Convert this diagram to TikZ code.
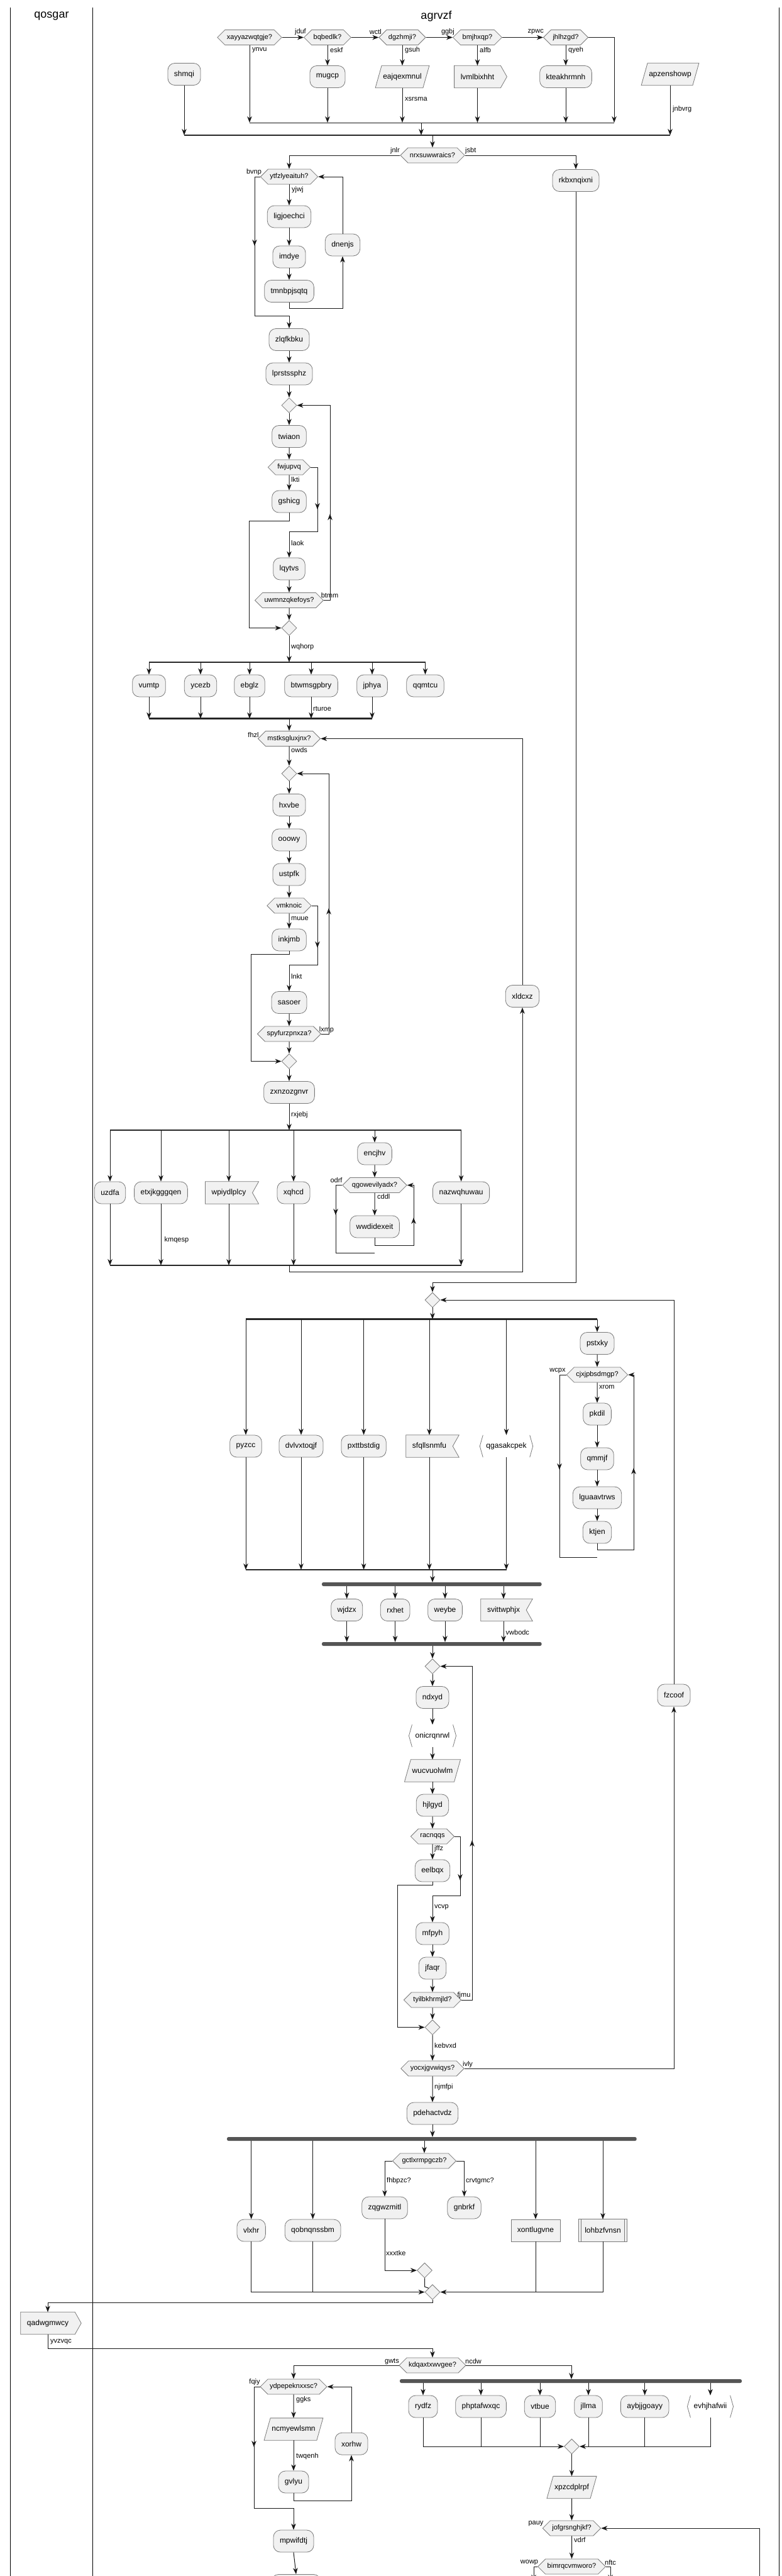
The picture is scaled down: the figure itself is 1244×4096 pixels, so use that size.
\documentclass[tikz,border=0pt]{standalone}
\usepackage{fontspec}
\setmainfont{Liberation Sans}
\usetikzlibrary{shapes.geometric,shapes.symbols,arrows.meta}
\pgfdeclarelayer{bg}
\pgfsetlayers{bg,main}
\definecolor{fillc}{HTML}{F1F1F1}
\definecolor{bordc}{HTML}{7A7A7A}
\definecolor{linec}{HTML}{181818}
\definecolor{barc}{HTML}{262626}
\definecolor{forkc}{HTML}{555555}
\newcommand\fNode{\fontsize{12}{14}\selectfont}
\newcommand\fHex{\fontsize{11}{13}\selectfont}
\newcommand\fLbl{\fontsize{11}{13}\selectfont}
\newcommand\fTitle{\fontsize{18}{21}\selectfont}
\tikzset{
  base/.style={font=\fNode, minimum height=35pt, inner xsep=10pt, inner ysep=0pt},
  act/.style={base, rectangle, rounded corners=11pt, draw=bordc, fill=fillc, line width=0.8pt},
  prect/.style={base, rectangle, draw=bordc, fill=fillc, line width=0.8pt},
  txt/.style={base, rectangle},
  para/.style={base, rectangle, inner xsep=7pt},
  hexs/.style={signal, signal to=west and east, draw=bordc, fill=fillc, line width=0.8pt, minimum height=24pt, inner xsep=3pt, inner ysep=0pt, font=\fHex},
  mrg/.style={diamond, draw=bordc, fill=fillc, line width=0.8pt, minimum width=24pt, minimum height=24pt, inner sep=0pt},
  lbl/.style={font=\fLbl, inner sep=0pt},
  flow/.style={draw=linec, line width=1pt, -{Stealth[length=10pt,width=7.5pt,inset=3pt]}},
  ln/.style={draw=linec, line width=1pt},
  sbar/.style={draw=barc, line width=2.5pt},
  fbar/.style={fill=forkc, rounded corners=2.5pt},
  shp/.style={draw=bordc, fill=fillc, line width=0.8pt},
  angl/.style={draw=bordc, line width=0.8pt},
  lane/.style={draw=black, line width=1pt},
  title/.style={font=\fTitle, inner sep=0pt},
}
\newcommand\shpSend[1]{\begin{pgfonlayer}{bg}\path[shp] (#1.north west) -- (#1.north east) -- ([xshift=10pt]#1.east) -- (#1.south east) -- (#1.south west) -- cycle;\end{pgfonlayer}}
\newcommand\shpRecv[1]{\begin{pgfonlayer}{bg}\path[shp] (#1.north west) -- ([xshift=10pt]#1.north east) -- (#1.east) -- ([xshift=10pt]#1.south east) -- (#1.south west) -- cycle;\end{pgfonlayer}}
\newcommand\shpPara[1]{\begin{pgfonlayer}{bg}\path[shp] ([xshift=5pt]#1.north west) -- ([xshift=5pt]#1.north east) -- ([xshift=-5pt]#1.south east) -- ([xshift=-5pt]#1.south west) -- cycle;\end{pgfonlayer}}
\newcommand\shpAng[1]{\draw[angl] ([xshift=5pt]#1.north west) -- (#1.west) -- ([xshift=5pt]#1.south west); \draw[angl] ([xshift=-5pt]#1.north east) -- (#1.east) -- ([xshift=-5pt]#1.south east);}
\newcommand\shpSub[1]{\begin{pgfonlayer}{bg}\path[shp] (#1.north west) rectangle (#1.south east);\end{pgfonlayer}\draw[angl] ([xshift=4pt]#1.north west) -- ([xshift=4pt]#1.south west); \draw[angl] ([xshift=-4pt]#1.north east) -- ([xshift=-4pt]#1.south east);}
\begin{document}
\begin{tikzpicture}[x=1pt,y=-1pt]
\useasboundingbox (0,0) rectangle (1244,4096);
\begin{pgfonlayer}{bg}
\fill[white] (0,0) rectangle (1244,4096);
\end{pgfonlayer}
\draw[lane] (16,12) -- (16,4100);
\draw[lane] (147,12) -- (147,4100);
\draw[lane] (1239,12) -- (1239,4100);
\node[title] (tq) at (82,26) {qosgar};
\node[title] (ta) at (694,26) {agrvzf};

% ---------- top if chain
\node[act] (shmqi) at (293,118) {shmqi};
\node[hexs] (xay) at (397,59.5) {xayyazwqtgje?};
\node[hexs] (bqb) at (521,59.5) {bqbedlk?};
\node[hexs] (dgz) at (640,59.5) {dgzhmji?};
\node[hexs] (bmj) at (759.5,59.5) {bmjhxqp?};
\node[hexs] (jhl) at (900,59.5) {jhlhzgd?};
\node[act] (mug) at (521,122) {mugcp};
\node[para] (eaj) at (640,122) {eajqexmnul}; \shpPara{eaj}
\node[txt] (lvm) at (759.5,122) {lvmlbixhht}; \shpSend{lvm}
\node[act] (kte) at (900,122) {kteakhrmnh};
\node[para] (apz) at (1066,118) {apzenshowp}; \shpPara{apz}
\draw[flow] (xay.east) -- (bqb.west);
\draw[flow] (bqb.east) -- (dgz.west);
\draw[flow] (dgz.east) -- (bmj.west);
\draw[flow] (bmj.east) -- (jhl.west);
\node[lbl,anchor=east] (l01) at (487,51) {jduf};
\node[lbl,anchor=east] (l02) at (607,51) {wctl};
\node[lbl,anchor=east] (l03) at (723,51) {ggbj};
\node[lbl,anchor=east] (l04) at (865,51) {zpwc};
\draw[flow] (xay.south) -- (397,195);
\draw[flow] (bqb.south) -- (mug.north);
\draw[flow] (dgz.south) -- (eaj.north);
\draw[flow] (bmj.south) -- (lvm.north);
\draw[flow] (jhl.south) -- (kte.north);
\node[lbl,anchor=west] (l05) at (401,80) {ynvu};
\node[lbl,anchor=west] (l06) at (525,80) {eskf};
\node[lbl,anchor=west] (l07) at (644,80) {gsuh};
\node[lbl,anchor=west] (l08) at (763,80) {alfb};
\node[lbl,anchor=west] (l09) at (904,80) {qyeh};
\draw[flow] (mug.south) -- (521,195);
\draw[flow] (eaj.south) -- (640,195);
\node[lbl,anchor=west] (l10) at (644,158) {xsrsma};
\draw[flow] (lvm.south) -- (759.5,195);
\draw[flow] (kte.south) -- (900,195);
\draw[flow] (jhl.east) -| (977,195);
\draw[ln] (397,195) -- (977,195);
\draw[flow] (670,195) -- (670,215);
\draw[flow] (shmqi.south) -- (293,215);
\draw[flow] (apz.south) -- (1066,215);
\node[lbl,anchor=west] (l11) at (1070,174) {jnbvrg};
\draw[sbar] (293,215) -- (1066,215);

% ---------- nrx
\node[hexs] (nrx) at (688,247) {nrxsuwwraics?};
\draw[flow] (688,215) -- (nrx.north);
\node[hexs] (ytf) at (460,281) {ytfzlyeaituh?};
\node[act] (rkb) at (916,287) {rkbxnqixni};
\draw[flow] (nrx.west) -| (ytf.north);
\draw[flow] (nrx.east) -| (rkb.north);
\node[lbl,anchor=east] (l12) at (636,240) {jnlr};
\node[lbl,anchor=west] (l13) at (740,240) {jsbt};
\node[act] (lig) at (460,344.5) {ligjoechci};
\node[act] (imd) at (460,408.5) {imdye};
\node[act] (tmn) at (460,463) {tmnbpjsqtq};
\node[act] (dne) at (545,389.5) {dnenjs};
\draw[flow] (ytf.south) -- (lig.north);
\node[lbl,anchor=west] (l14) at (464,302) {yjwj};
\draw[flow] (lig) -- (imd);
\draw[flow] (imd) -- (tmn);
\draw[flow] (tmn.south) -- (460,490) -| (dne.south);
\draw[flow] (dne.north) |- (ytf.east);
\node[act] (zlq) at (460,540) {zlqfkbku};
\draw[flow] (ytf.west) -| (405,502) -| (zlq.north);
\draw[flow] (405,376) -- (405,391);
\node[lbl] (l15) at (404,274) {bvnp};
\node[act] (lpr) at (460,594.5) {lprstssphz};
\node[mrg] (md1) at (460,644.5) {};
\node[act] (twi) at (460,694) {twiaon};
\node[hexs] (fwj) at (460,743) {fwjupvq};
\node[act] (gsh) at (460,797.5) {gshicg};
\node[act] (lqy) at (460,904.5) {lqytvs};
\node[hexs] (uwm) at (460,954.5) {uwmnzqkefoys?};
\node[mrg] (md2) at (460,998.5) {};
\draw[flow] (zlq) -- (lpr);
\draw[flow] (lpr) -- (md1);
\draw[flow] (md1) -- (twi);
\draw[flow] (twi) -- (fwj);
\draw[flow] (fwj) -- (gsh);
\node[lbl,anchor=west] (l16) at (463,763) {lkti};
\draw[flow] (fwj.east) -| (505,845) -| (lqy.north);
\draw[flow] (505,795) -- (505,810);
\node[lbl,anchor=west] (l17) at (463,864) {laok};
\draw[flow] (lqy) -- (uwm);
\draw[flow] (uwm.east) -| (525,644.5) -- (md1.east);
\draw[flow] (525,833) -- (525,817);
\node[lbl] (l18) at (524.5,947) {btmm};
\draw[flow] (uwm) -- (md2);
\draw[flow] (gsh.south) -- (460,828) -| (396,998.5) -- (md2.west);
\draw[flow] (md2.south) -- (460,1053);
\node[lbl,anchor=west] (l19) at (463,1029) {wqhorp};
\draw[sbar] (237,1053) -- (676.5,1053);

% ---------- split 1
\node[act] (vum) at (237,1090.5) {vumtp};
\node[act] (ycz) at (319,1090.5) {ycezb};
\node[act] (ebg) at (397,1090.5) {ebglz};
\node[act] (btw) at (495,1090.5) {btwmsgpbry};
\node[act] (jph) at (592,1090.5) {jphya};
\node[act] (qqm) at (676.5,1090.5) {qqmtcu};
\draw[flow] (237,1053) -- (vum.north);
\draw[flow] (319,1053) -- (ycz.north);
\draw[flow] (397,1053) -- (ebg.north);
\draw[flow] (495,1053) -- (btw.north);
\draw[flow] (592,1053) -- (jph.north);
\draw[flow] (676.5,1053) -- (qqm.north);
\draw[flow] (vum.south) -- (237,1142.7);
\draw[flow] (ycz.south) -- (319,1142.7);
\draw[flow] (ebg.south) -- (397,1142.7);
\draw[flow] (btw.south) -- (495,1142.7);
\draw[flow] (jph.south) -- (592,1142.7);
\node[lbl,anchor=west] (l20) at (498,1127) {rturoe};
\draw[sbar] (237,1142.7) -- (592,1142.7);
\node[hexs] (mst) at (460,1174.5) {mstksgluxjnx?};
\draw[flow] (460,1142.7) -- (mst.north);
\node[lbl] (l21) at (403,1168) {fhzl};

% ---------- while mst
\node[mrg] (md3) at (460,1230) {};
\draw[flow] (mst) -- (md3);
\node[lbl,anchor=west] (l22) at (463,1193) {owds};
\node[act] (hxv) at (460,1280) {hxvbe};
\node[act] (ooo) at (460,1335.5) {ooowy};
\node[act] (ust) at (460,1390.5) {ustpfk};
\node[hexs] (vmk) at (460,1440) {vmknoic};
\node[act] (ink) at (460,1494.5) {inkjmb};
\node[act] (sas) at (460,1594) {sasoer};
\node[hexs] (spy) at (460,1644) {spyfurzpnxza?};
\node[mrg] (md4) at (460,1687.5) {};
\node[act] (zxn) at (460,1737) {zxnzozgnvr};
\node[act] (xld) at (831,1584) {xldcxz};
\draw[flow] (md3) -- (hxv);
\draw[flow] (hxv) -- (ooo);
\draw[flow] (ooo) -- (ust);
\draw[flow] (ust) -- (vmk);
\draw[flow] (vmk) -- (ink);
\node[lbl,anchor=west] (l23) at (463,1461) {muue};
\draw[flow] (vmk.east) -| (505,1534) -| (sas.north);
\draw[flow] (505,1492) -- (505,1507);
\node[lbl,anchor=west] (l24) at (463,1553) {lnkt};
\draw[flow] (sas) -- (spy);
\draw[flow] (spy.east) -| (523,1230) -- (md3.east);
\draw[flow] (523,1460) -- (523,1444);
\node[lbl] (l25) at (519.5,1638) {lxmp};
\draw[flow] (ink.south) -- (460,1517) -| (399,1687.5) -- (md4.west);
\draw[flow] (spy) -- (md4);
\draw[flow] (md4) -- (zxn);
\draw[flow] (zxn.south) -- (460,1797);
\node[lbl,anchor=west] (l26) at (463,1773) {rxjebj};
\draw[sbar] (175,1797) -- (733.6,1797);

% ---------- split 2
\node[act] (uzd) at (175,1896.5) {uzdfa};
\node[act] (etx) at (256,1896.5) {etxjkgggqen};
\node[txt] (wpi) at (364,1896.5) {wpiydlplcy}; \shpRecv{wpi}
\node[act] (xqh) at (467,1896.5) {xqhcd};
\node[act] (enc) at (596,1834.5) {encjhv};
\node[hexs] (qgo) at (596,1884.5) {qgowevilyadx?};
\node[act] (wwd) at (596,1950.5) {wwdidexeit};
\node[act] (naz) at (733.6,1896.5) {nazwqhuwau};
\draw[flow] (175,1797) -- (uzd.north);
\draw[flow] (256,1797) -- (etx.north);
\draw[flow] (364,1797) -- (wpi.north);
\draw[flow] (467,1797) -- (xqh.north);
\draw[flow] (596,1797) -- (enc.north);
\draw[flow] (733.6,1797) -- (naz.north);
\draw[flow] (enc) -- (qgo);
\draw[flow] (qgo) -- (wwd);
\node[lbl,anchor=west] (l27) at (600,1903) {cddl};
\draw[flow] (wwd.south) -- (596,1980) -| (658,1884.5) -- (qgo.east);
\draw[flow] (658,1951) -- (658,1936);
\draw[ln] (qgo.west) -| (534,1992) -- (596,1992);
\draw[flow] (534,1917) -- (534,1932);
\node[lbl] (l28) at (535,1877) {odrf};
\draw[flow] (uzd.south) -- (175,2012);
\draw[flow] (etx.south) -- (256,2012);
\node[lbl,anchor=west] (l29) at (261.5,1972) {kmqesp};
\draw[flow] (wpi.south) -- (364,2012);
\draw[flow] (xqh.south) -- (467,2012);
\draw[flow] (naz.south) -- (733.6,2012);
\draw[sbar] (175,2012) -- (733.6,2012);
\draw[flow] (460,2012) |- (831,2022) -- (xld.south);
\draw[flow] (xld.north) |- (mst.east);

% ---------- repeat md5
\node[mrg] (md5) at (688,2067) {};
\draw[flow] (rkb.south) |- (688,2039) -- (md5.north);
\draw[flow] (md5.south) -- (688,2097.7);
\draw[sbar] (391,2097.7) -- (950,2097.7);
\node[act] (pyz) at (391,2299.5) {pyzcc};
\node[act] (dvl) at (479,2299.5) {dvlvxtoqjf};
\node[act] (pxt) at (578.6,2299.5) {pxttbstdig};
\node[txt] (sfq) at (683,2299.5) {sfqllsnmfu}; \shpRecv{sfq}
\node[txt] (qga) at (805.5,2299.5) {qgasakcpek}; \shpAng{qga}
\node[act] (pst) at (950,2136) {pstxky};
\node[hexs] (cjx) at (950,2186) {cjxjpbsdmgp?};
\node[act] (pkd) at (950,2248.5) {pkdil};
\node[act] (qmm) at (950,2319.5) {qmmjf};
\node[act] (lgu) at (950,2381.5) {lguaavtrws};
\node[act] (ktj) at (950,2436.5) {ktjen};
\draw[flow] (391,2097.7) -- (pyz.north);
\draw[flow] (479,2097.7) -- (dvl.north);
\draw[flow] (578.6,2097.7) -- (pxt.north);
\draw[flow] (683,2097.7) -- (sfq.north);
\draw[flow] (805.5,2097.7) -- (qga.north);
\draw[flow] (950,2097.7) -- (pst.north);
\draw[flow] (pst) -- (cjx);
\draw[flow] (cjx) -- (pkd);
\node[lbl,anchor=west] (l30) at (953,2206) {xrom};
\draw[flow] (pkd) -- (qmm);
\draw[flow] (qmm) -- (lgu);
\draw[flow] (lgu) -- (ktj);
\draw[flow] (ktj.south) -- (950,2464) -| (1008,2186) -- (cjx.east);
\draw[flow] (1008,2350) -- (1008,2334);
\draw[ln] (cjx.west) -| (890,2476) -- (950,2476);
\draw[flow] (890,2322) -- (890,2337);
\node[lbl] (l31) at (887,2180) {wcpx};
\draw[flow] (pyz.south) -- (391,2496);
\draw[flow] (dvl.south) -- (479,2496);
\draw[flow] (pxt.south) -- (578.6,2496);
\draw[flow] (sfq.south) -- (683,2496);
\draw[flow] (qga.south) -- (805.5,2496);
\draw[sbar] (391,2496) -- (805.5,2496);
\draw[flow] (688,2496) -- (688,2516);
\fill[fbar] (512,2516) rectangle (861.6,2522);
\node[act] (wjd) at (551.7,2560) {wjdzx};
\node[act] (rxh) at (628.6,2560) {rxhet};
\node[act] (wey) at (708,2560) {weybe};
\node[txt] (svi) at (801,2560) {svittwphjx}; \shpRecv{svi}
\draw[flow] (551.7,2522) -- (wjd.north);
\draw[flow] (628.6,2522) -- (rxh.north);
\draw[flow] (708,2522) -- (wey.north);
\draw[flow] (801,2522) -- (svi.north);
\draw[flow] (wjd.south) -- (551.7,2611);
\draw[flow] (rxh.south) -- (628.6,2611);
\draw[flow] (wey.south) -- (708,2611);
\draw[flow] (svi.south) -- (801,2611);
\node[lbl,anchor=west] (l32) at (804.5,2596) {vwbodc};
\fill[fbar] (512,2611) rectangle (861.6,2617);

% ---------- repeat md6
\node[mrg] (md6) at (688,2649.5) {};
\draw[flow] (688,2617) -- (md6.north);
\node[act] (ndx) at (688,2699) {ndxyd};
\node[txt] (oni) at (688,2760) {onicrqnrwl}; \shpAng{oni}
\node[para] (wuc) at (688,2815.5) {wucvuolwlm}; \shpPara{wuc}
\node[act] (hjl) at (688,2870.5) {hjlgyd};
\node[hexs] (rac) at (688,2920) {racnqqs};
\node[act] (eel) at (688,2974.5) {eelbqx};
\node[act] (mfp) at (688,3074.5) {mfpyh};
\node[act] (jfa) at (688,3129.5) {jfaqr};
\node[hexs] (tyi) at (688,3180) {tyilbkhrmjld?};
\node[mrg] (md7) at (688,3223.5) {};
\node[hexs] (yoc) at (688,3289) {yocxjgvwiqys?};
\node[act] (pde) at (688,3360.5) {pdehactvdz};
\node[act] (fzc) at (1072,2695.5) {fzcoof};
\draw[flow] (md6) -- (ndx);
\draw[flow] (ndx) -- (oni);
\draw[flow] (oni) -- (wuc);
\draw[flow] (wuc) -- (hjl);
\draw[flow] (hjl) -- (rac);
\draw[flow] (rac) -- (eel);
\node[lbl,anchor=west] (l33) at (691,2940) {jffz};
\draw[flow] (rac.east) -| (732,3014) -| (mfp.north);
\draw[flow] (732,2975) -- (732,2990);
\node[lbl,anchor=west] (l34) at (691,3033) {vcvp};
\draw[flow] (mfp) -- (jfa);
\draw[flow] (jfa) -- (tyi);
\draw[flow] (tyi.east) -| (751,2649.5) -- (md6.east);
\draw[flow] (751,2942) -- (751,2926);
\node[lbl] (l35) at (738,3173) {fjmu};
\draw[flow] (eel.south) -- (688,2997) -| (632.5,3223.5) -- (md7.west);
\draw[flow] (tyi) -- (md7);
\draw[flow] (md7) -- (yoc);
\node[lbl,anchor=west] (l36) at (691,3253) {kebvxd};
\draw[flow] (yoc.east) -| (fzc.south);
\node[lbl] (l37) at (744,3283) {ivly};
\draw[flow] (fzc.north) |- (md5.east);
\draw[flow] (yoc) -- (pde);
\node[lbl,anchor=west] (l38) at (691,3319) {njmfpi};
\draw[flow] (pde.south) -- (688,3398);
\fill[fbar] (361,3398) rectangle (1012.7,3404);

% ---------- fork 3
\node[hexs] (gct) at (675,3436) {gctlxrmpgczb?};
\draw[flow] (675,3404) -- (gct.north);
\node[act] (zqg) at (612,3510.5) {zqgwzmitl};
\node[act] (gnb) at (738.5,3510.5) {gnbrkf};
\draw[flow] (gct.west) -| (zqg.north);
\draw[flow] (gct.east) -| (gnb.north);
\node[lbl,anchor=west] (l39) at (615,3468) {fhbpzc?};
\node[lbl,anchor=west] (l40) at (741,3468) {crvtgmc?};
\node[mrg] (md8) at (675.5,3610) {};
\draw[flow] (zqg.south) |- (md8.west);
\node[lbl,anchor=west] (l41) at (614,3583) {xxxtke};
\node[act] (vlx) at (399.7,3546.5) {vlxhr};
\node[act] (qob) at (497.6,3546.5) {qobnqnssbm};
\node[prect] (xon) at (852,3546.5) {xontlugvne};
\node[txt] (loh) at (959,3546.5) {lohbzfvnsn}; \shpSub{loh}
\draw[flow] (399.7,3404) -- (vlx.north);
\draw[flow] (497.6,3404) -- (qob.north);
\draw[flow] (852,3404) -- (xon.north);
\draw[flow] (959,3404) -- (loh.north);
\node[mrg] (md9) at (688,3644.5) {};
\draw[flow] (vlx.south) |- (md9.west);
\draw[ln] (qob.south) -- (497.6,3644.5);
\draw[flow] (loh.south) |- (md9.east);
\draw[ln] (xon.south) -- (852,3644.5);
\draw[ln] (md8.south) -- (675.5,3636) -- (md9.north west);

% ---------- qosgar lane
\node[txt] (qad) at (76,3694) {qadwgmwcy}; \shpSend{qad}
\draw[flow] (md9.south) -- (688,3661.7) -| (qad.north);
\node[hexs] (kdq) at (688,3761) {kdqaxtxwvgee?};
\draw[flow] (qad.south) -- (76,3734) -| (kdq.north);
\node[lbl,anchor=west] (l42) at (80,3724) {yvzvqc};
\node[hexs] (ydp) at (467,3795) {ydpepeknxxsc?};
\draw[flow] (kdq.west) -| (ydp.north);
\node[lbl,anchor=east] (l43) at (635,3755) {gwts};
\draw[flow] (kdq.east) -| (909,3783);
\node[lbl,anchor=west] (l44) at (740,3755) {ncdw};
\fill[fbar] (636,3783) rectangle (1180,3789);
\node[para] (ncm) at (467,3862.5) {ncmyewlsmn}; \shpPara{ncm}
\node[act] (gvl) at (467,3946.5) {gvlyu};
\node[act] (xor) at (559,3885.7) {xorhw};
\node[act] (mpw) at (467,4040.5) {mpwifdtj};
\node[act, minimum width=78pt] (nxt) at (471,4111) {};
\draw[flow] (ydp) -- (ncm);
\node[lbl,anchor=west] (l45) at (471,3816) {ggks};
\draw[flow] (ncm) -- (gvl);
\node[lbl,anchor=west] (l46) at (471,3906) {twqenh};
\draw[flow] (gvl.south) -- (467,3976) -| (xor.south);
\draw[flow] (xor.north) |- (ydp.east);
\draw[flow] (ydp.west) -| (404,3988) -| (mpw.north);
\draw[flow] (404,3876) -- (404,3891);
\node[lbl] (l47) at (405,3788) {fqiy};
\draw[flow] (mpw.south) -- (nxt.north);

% ---------- fork 4
\node[act] (ryd) at (673,3826.5) {rydfz};
\node[act] (php) at (765,3826.5) {phptafwxqc};
\node[act] (vtb) at (859,3826.5) {vtbue};
\node[act] (jll) at (936,3826.5) {jllma};
\node[act] (ayb) at (1025.7,3826.5) {aybjjgoayy};
\node[txt] (evh) at (1130,3826.5) {evhjhafwii}; \shpAng{evh}
\draw[flow] (673,3789) -- (ryd.north);
\draw[flow] (765,3789) -- (php.north);
\draw[flow] (859,3789) -- (vtb.north);
\draw[flow] (936,3789) -- (jll.north);
\draw[flow] (1025.7,3789) -- (ayb.north);
\draw[flow] (1130,3789) -- (evh.north);
\node[mrg] (md10) at (909.5,3890) {};
\draw[flow] (ryd.south) |- (md10.west);
\draw[ln] (php.south) -- (765,3890);
\draw[ln] (vtb.south) -- (859,3890);
\draw[flow] (evh.south) |- (md10.east);
\draw[ln] (jll.south) -- (936,3890);
\draw[ln] (ayb.south) -- (1025.7,3890);
\node[para] (xpz) at (909.5,3955) {xpzcdplrpf}; \shpPara{xpz}
\node[hexs] (jof) at (909.5,4020) {jofgrsnghjkf?};
\node[hexs] (bim) at (909.5,4081) {bimrqcvmworo?};
\draw[flow] (md10) -- (xpz);
\draw[flow] (xpz) -- (jof);
\draw[flow] (jof) -- (bim);
\node[lbl] (l48) at (852.5,4013) {pauy};
\node[lbl,anchor=west] (l49) at (913,4039) {vdrf};
\draw[flow] (1208,4110) |- (jof.east);
\draw[flow] (bim.west) -| (849,4104);
\draw[flow] (bim.east) -| (971,4104);
\node[lbl] (l50) at (842,4075) {wowp};
\node[lbl] (l51) at (971,4075) {nftc};
\end{tikzpicture}
\end{document}
